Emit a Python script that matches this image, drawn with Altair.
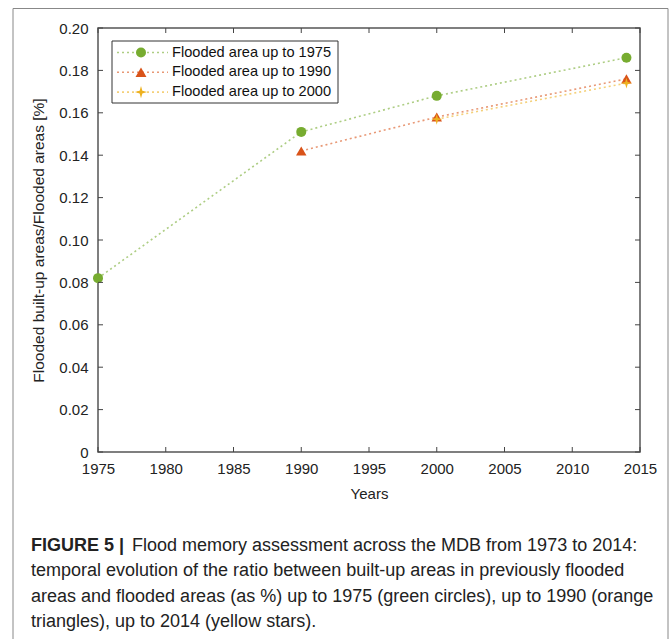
import altair as alt
import pandas as pd

# ---- data ----
series_names = ["Flooded area up to 1975", "Flooded area up to 1990", "Flooded area up to 2000"]
years_1975 = [1975, 1990, 2000, 2014]
vals_1975 = [0.082, 0.151, 0.168, 0.186]
years_1990 = [1990, 2000, 2014]
vals_1990 = [0.142, 0.158, 0.176]
years_2000 = [2000, 2014]
vals_2000 = [0.157, 0.174]

x_ticks = [1975, 1980, 1985, 1990, 1995, 2000, 2005, 2010, 2015]
y_ticks = [0, 0.02, 0.04, 0.06, 0.08, 0.10, 0.12, 0.14, 0.16, 0.18, 0.20]

caption_bold = "FIGURE 5 |"
caption_lines = [
    "Flood memory assessment across the MDB from 1973 to 2014:",
    "temporal evolution of the ratio between built-up areas in previously flooded",
    "areas and flooded areas (as %) up to 1975 (green circles), up to 1990 (orange",
    "triangles), up to 2014 (yellow stars).",
]

colors = ["#77ac30", "#d95319", "#edb120"]
star = "M0,-1L0.22,-0.22L1,0L0.22,0.22L0,1L-0.22,0.22L-1,0L-0.22,-0.22Z"
shapes = ["circle", "triangle-up", star]

rows = []
for name, ys, vs in zip(series_names, [years_1975, years_1990, years_2000], [vals_1975, vals_1990, vals_2000]):
    for y, v in zip(ys, vs):
        rows.append({"series": name, "year": y, "value": v})
df = pd.DataFrame(rows)

W, H = 542, 424
FONT = "Liberation Sans"

xscale = alt.Scale(domain=[1975, 2015], nice=False, zero=False)
yscale = alt.Scale(domain=[0, 0.2], nice=False)
cscale = alt.Scale(domain=series_names, range=colors)
sscale = alt.Scale(domain=series_names, range=shapes)
size_scale = alt.Scale(domain=series_names, range=[100, 120, 150])

xaxis = alt.Axis(values=x_ticks, format="d", title="Years", tickSize=0, domain=False, grid=False,
                 labelFlush=False, labelOverlap=False,
                 labelFontSize=15, titleFontSize=15, labelPadding=9, titlePadding=10,
                 labelColor="#222", titleColor="#222", titleFontWeight="normal", labelFont=FONT, titleFont=FONT)
yaxis = alt.Axis(values=y_ticks, title="Flooded built-up areas/Flooded areas [%]", tickSize=0, domain=False,
                 grid=False, labelFlush=False, labelOverlap=False,
                 labelExpr="datum.value == 0 ? '0' : format(datum.value, '.2f')",
                 labelFontSize=15, titleFontSize=15.5, labelPadding=10, titlePadding=12,
                 labelColor="#222", titleColor="#222", titleFontWeight="normal", labelFont=FONT, titleFont=FONT)

base = alt.Chart(df)
lines = base.mark_line(strokeDash=[2, 3], strokeWidth=1.6, opacity=0.6).encode(
    x=alt.X("year:Q", scale=xscale, axis=xaxis),
    y=alt.Y("value:Q", scale=yscale, axis=yaxis),
    color=alt.Color("series:N", scale=cscale, legend=None),
    detail="series:N",
)
points = base.mark_point(filled=True, opacity=1).encode(
    x=alt.X("year:Q", scale=xscale),
    y=alt.Y("value:Q", scale=yscale),
    color=alt.Color("series:N", scale=cscale, legend=None),
    shape=alt.Shape("series:N", scale=sscale, legend=None),
    size=alt.Size("series:N", scale=size_scale, legend=None),
    order=alt.Order("series:N"),
)

xt = pd.DataFrame({"t": x_ticks})
yt = pd.DataFrame({"t": y_ticks})
tick_style = dict(color="#444", strokeWidth=1)
bot_ticks = alt.Chart(xt).mark_rule(**tick_style).encode(
    x=alt.X("t:Q", scale=xscale), y=alt.value(H), y2=alt.value(H - 5))
top_ticks = alt.Chart(xt).mark_rule(**tick_style).encode(
    x=alt.X("t:Q", scale=xscale), y=alt.value(0), y2=alt.value(5))
left_ticks = alt.Chart(yt).mark_rule(**tick_style).encode(
    y=alt.Y("t:Q", scale=yscale), x=alt.value(0), x2=alt.value(5))
right_ticks = alt.Chart(yt).mark_rule(**tick_style).encode(
    y=alt.Y("t:Q", scale=yscale), x=alt.value(W - 5), x2=alt.value(W))

# ---- custom legend ----
one = pd.DataFrame({"a": [0]})
legend_layers = [
    alt.Chart(one).mark_rect(fill="white", stroke="#333", strokeWidth=1).encode(
        x=alt.value(14), x2=alt.value(240), y=alt.value(13), y2=alt.value(75))
]
leg_sizes = [100, 120, 150]
for i, (name, col, shp) in enumerate(zip(series_names, colors, shapes)):
    yy = 24.5 + i * 19.8
    legend_layers.append(alt.Chart(one).mark_rule(strokeDash=[2, 3], strokeWidth=1.6, opacity=0.6, color=col).encode(
        x=alt.value(19), x2=alt.value(70), y=alt.value(yy)))
    legend_layers.append(alt.Chart(one).mark_point(filled=True, size=leg_sizes[i], opacity=1, color=col,
                                                   shape=shp).encode(
        x=alt.value(43), y=alt.value(yy)))
    legend_layers.append(alt.Chart(one).mark_text(text=name, align="left", baseline="middle", fontSize=14.6,
                                                  font=FONT, color="#111").encode(
        x=alt.value(74), y=alt.value(yy)))

# ---- outer frame and caption ----
frame = alt.Chart(one).mark_rect(fill=None, stroke="#888", strokeWidth=1).encode(
    x=alt.value(-85), x2=alt.value(570), y=alt.value(-19.5), y2=alt.value(640))

CAP = 18
cap_layers = [alt.Chart(one).mark_text(text=caption_bold, align="left", baseline="middle", fontSize=CAP,
                                       font=FONT, fontWeight="bold", color="#222").encode(
    x=alt.value(-67), y=alt.value(518))]
for i, line in enumerate(caption_lines):
    cap_layers.append(alt.Chart(one).mark_text(text=line, align="left", baseline="middle", fontSize=CAP,
                                               font=FONT, color="#222").encode(
        x=alt.value(34 if i == 0 else -67), y=alt.value(518 + i * 25.3)))

chart = alt.layer(
    frame, lines, points, bot_ticks, top_ticks, left_ticks, right_ticks, *legend_layers, *cap_layers
).properties(
    width=W, height=H,
    autosize=alt.AutoSizeParams(type="none"),
    padding={"left": 98, "top": 28, "right": 29, "bottom": 187},
    background="white",
).configure_view(stroke="#555", strokeWidth=1.5)

chart.save("out.html", embed_options={"renderer": "svg", "actions": False})
